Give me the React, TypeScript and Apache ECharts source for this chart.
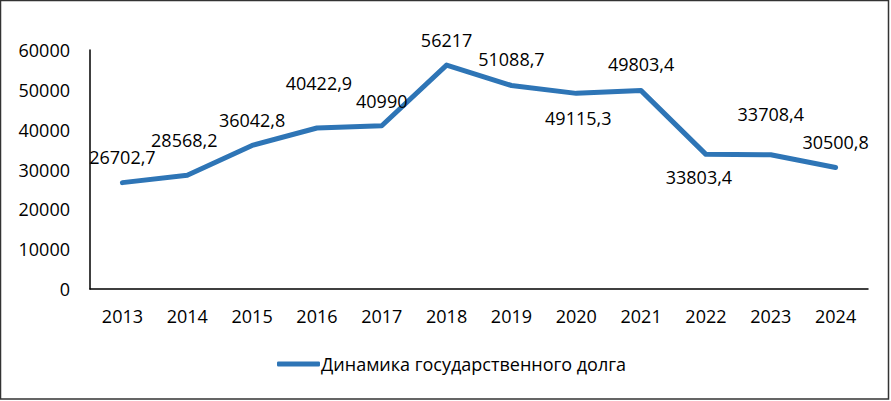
import React, { useEffect, useRef } from "react";
import * as echarts from "echarts";

const years = ["2013", "2014", "2015", "2016", "2017", "2018", "2019", "2020", "2021", "2022", "2023", "2024"];
const debt = [26702.7, 28568.2, 36042.8, 40422.9, 40990, 56217, 51088.7, 49115.3, 49803.4, 33803.4, 33708.4, 30500.8];
const labelOffsets: [number, number][] = [
  [0, -26], [-3, -35], [0, -25], [2, -45], [0, -25], [0, -25],
  [0, -26], [2, 25], [0, -27], [-7, 23], [0, -41], [0, -26],
];
const seriesName = "Динамика государственного долга";
const yMax = 60000;
const yStep = 10000;

const FONT = "'Open Sans', 'Noto Sans', sans-serif";

export default function App() {
  const ref = useRef<HTMLDivElement>(null);
  useEffect(() => {
    if (!ref.current) return;
    const chart = echarts.init(ref.current, undefined, { renderer: "svg" });
    const fmt = (v: number) => String(v).replace(".", ",");
    chart.setOption({
      animation: false,
      backgroundColor: "#ffffff",
      textStyle: { fontFamily: FONT },
      grid: { left: 90, right: 23, top: 50, bottom: 112, containLabel: false },
      xAxis: {
        type: "category",
        data: years,
        boundaryGap: true,
        axisLine: { lineStyle: { color: "#000", width: 1.5 } },
        axisTick: { show: false },
        axisLabel: { color: "#000", fontSize: 18, fontFamily: FONT, margin: 18 },
      },
      yAxis: {
        type: "value",
        min: 0,
        max: yMax,
        interval: yStep,
        axisLine: { show: true, lineStyle: { color: "#000", width: 1.5 } },
        axisTick: { show: false },
        splitLine: { show: false },
        axisLabel: {
          color: "#000",
          fontSize: 18,
          fontFamily: FONT,
          margin: 20,
          formatter: (v: number) => String(v),
        },
      },
      legend: {
        left: 272,
        top: 350,
        icon: "roundRect",
        itemWidth: 43,
        itemHeight: 5,
        textStyle: { color: "#000", fontSize: 18, fontFamily: FONT, padding: [0, 0, 0, -4] },
        data: [seriesName],
      },
      series: [
        {
          name: seriesName,
          type: "line",
          data: debt.map((v, i) => ({
            value: v,
            label: { offset: labelOffsets[i] },
          })),
          symbol: "circle",
          symbolSize: 3,
          showSymbol: true,
          itemStyle: { color: "#2E75B6" },
          lineStyle: { color: "#2E75B6", width: 5, cap: "round", join: "round" },
          label: {
            show: true,
            position: "inside",
            color: "#000",
            fontSize: 18,
            fontFamily: FONT,
            formatter: (p: any) => fmt(p.value),
          },
        },
      ],
      graphic: [
        {
          type: "rect",
          shape: { x: 0.5, y: 0.5, width: 888, height: 398.5 },
          style: { fill: "none", stroke: "#333", lineWidth: 1.5 },
          silent: true,
        },
      ],
    });
    return () => chart.dispose();
  }, []);
  return (
    <div
      ref={ref}
      style={{ position: "fixed", left: 0, top: 0, width: 891, height: 401 }}
    />
  );
}
